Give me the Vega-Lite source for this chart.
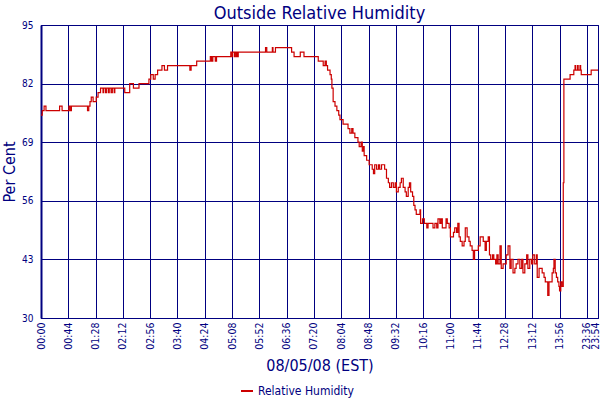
{
  "$schema": "https://vega.github.io/schema/vega-lite/v6.json",
  "width": 557,
  "height": 293,
  "autosize": "none",
  "padding": {"left": 41, "top": 25, "right": 2, "bottom": 82},
  "background": "white",
  "title": {
    "text": "Outside Relative Humidity",
    "fontSize": 18,
    "fontWeight": "normal",
    "color": "#000080",
    "anchor": "middle",
    "offset": -3
  },
  "data": {
    "values": [
      {"n": 0, "v": 75}, {"n": 2, "v": 76}, {"n": 5, "v": 77}, {"n": 8, "v": 76},
      {"n": 30, "v": 77}, {"n": 34, "v": 76}, {"n": 45, "v": 77}, {"n": 47, "v": 76},
      {"n": 49, "v": 77}, {"n": 75, "v": 76}, {"n": 77, "v": 77}, {"n": 79, "v": 78},
      {"n": 81, "v": 79}, {"n": 84, "v": 78}, {"n": 89, "v": 79}, {"n": 92, "v": 80},
      {"n": 96, "v": 81}, {"n": 100, "v": 80}, {"n": 101, "v": 81}, {"n": 104, "v": 80},
      {"n": 106, "v": 81}, {"n": 109, "v": 80}, {"n": 110, "v": 81}, {"n": 113, "v": 80},
      {"n": 115, "v": 81}, {"n": 118, "v": 80}, {"n": 119, "v": 81}, {"n": 135, "v": 80},
      {"n": 143, "v": 82}, {"n": 149, "v": 81}, {"n": 158, "v": 82}, {"n": 174, "v": 83},
      {"n": 177, "v": 84}, {"n": 181, "v": 83}, {"n": 184, "v": 84}, {"n": 188, "v": 85},
      {"n": 195, "v": 86}, {"n": 199, "v": 85}, {"n": 204, "v": 86}, {"n": 240, "v": 85},
      {"n": 242, "v": 86}, {"n": 251, "v": 87}, {"n": 273, "v": 88}, {"n": 275, "v": 87},
      {"n": 277, "v": 88}, {"n": 281, "v": 87}, {"n": 283, "v": 88}, {"n": 306, "v": 89},
      {"n": 308, "v": 88}, {"n": 309, "v": 89}, {"n": 312, "v": 88}, {"n": 313, "v": 89},
      {"n": 315, "v": 88}, {"n": 316, "v": 89}, {"n": 317, "v": 88}, {"n": 318, "v": 89},
      {"n": 362, "v": 90}, {"n": 364, "v": 89}, {"n": 373, "v": 90}, {"n": 374, "v": 89},
      {"n": 378, "v": 90}, {"n": 404, "v": 89}, {"n": 408, "v": 88}, {"n": 418, "v": 89},
      {"n": 424, "v": 88}, {"n": 447, "v": 87}, {"n": 455, "v": 86}, {"n": 458, "v": 87},
      {"n": 460, "v": 86}, {"n": 462, "v": 85}, {"n": 466, "v": 84}, {"n": 468, "v": 83},
      {"n": 469, "v": 81}, {"n": 471, "v": 78}, {"n": 474, "v": 77}, {"n": 477, "v": 76},
      {"n": 480, "v": 75}, {"n": 482, "v": 74}, {"n": 487, "v": 73}, {"n": 495, "v": 72},
      {"n": 498, "v": 71}, {"n": 501, "v": 72}, {"n": 503, "v": 71}, {"n": 506, "v": 70},
      {"n": 511, "v": 69}, {"n": 513, "v": 68}, {"n": 516, "v": 69}, {"n": 518, "v": 67},
      {"n": 520, "v": 68}, {"n": 521, "v": 66}, {"n": 525, "v": 65}, {"n": 529, "v": 64},
      {"n": 534, "v": 63}, {"n": 536, "v": 62}, {"n": 538, "v": 64}, {"n": 541, "v": 63},
      {"n": 544, "v": 64}, {"n": 546, "v": 63}, {"n": 549, "v": 64}, {"n": 554, "v": 63},
      {"n": 557, "v": 61}, {"n": 560, "v": 60}, {"n": 562, "v": 59}, {"n": 565, "v": 60},
      {"n": 568, "v": 59}, {"n": 571, "v": 60}, {"n": 573, "v": 58}, {"n": 576, "v": 59},
      {"n": 579, "v": 60}, {"n": 581, "v": 61}, {"n": 584, "v": 59}, {"n": 587, "v": 58},
      {"n": 589, "v": 57}, {"n": 592, "v": 59}, {"n": 594, "v": 60}, {"n": 596, "v": 58},
      {"n": 599, "v": 57}, {"n": 601, "v": 55}, {"n": 603, "v": 54}, {"n": 605, "v": 53},
      {"n": 611, "v": 54}, {"n": 612, "v": 51}, {"n": 615, "v": 52}, {"n": 618, "v": 51},
      {"n": 622, "v": 50}, {"n": 624, "v": 51}, {"n": 632, "v": 50}, {"n": 635, "v": 51},
      {"n": 638, "v": 50}, {"n": 640, "v": 52}, {"n": 643, "v": 51}, {"n": 645, "v": 52},
      {"n": 647, "v": 50}, {"n": 653, "v": 52}, {"n": 655, "v": 51}, {"n": 658, "v": 50},
      {"n": 660, "v": 48}, {"n": 665, "v": 49}, {"n": 667, "v": 50}, {"n": 670, "v": 49},
      {"n": 672, "v": 51}, {"n": 674, "v": 48}, {"n": 676, "v": 47}, {"n": 679, "v": 46},
      {"n": 682, "v": 47}, {"n": 684, "v": 50}, {"n": 687, "v": 48}, {"n": 690, "v": 47},
      {"n": 692, "v": 46}, {"n": 695, "v": 45}, {"n": 697, "v": 43}, {"n": 699, "v": 45},
      {"n": 705, "v": 46}, {"n": 708, "v": 48}, {"n": 713, "v": 47}, {"n": 716, "v": 45},
      {"n": 718, "v": 47}, {"n": 721, "v": 48}, {"n": 723, "v": 44}, {"n": 725, "v": 43},
      {"n": 728, "v": 44}, {"n": 730, "v": 43}, {"n": 733, "v": 42}, {"n": 735, "v": 44},
      {"n": 737, "v": 42}, {"n": 740, "v": 46}, {"n": 742, "v": 41}, {"n": 745, "v": 42},
      {"n": 750, "v": 44}, {"n": 753, "v": 46}, {"n": 756, "v": 41}, {"n": 758, "v": 43},
      {"n": 761, "v": 40}, {"n": 764, "v": 41}, {"n": 766, "v": 42}, {"n": 769, "v": 43},
      {"n": 772, "v": 41}, {"n": 775, "v": 43}, {"n": 777, "v": 40}, {"n": 780, "v": 42},
      {"n": 783, "v": 44}, {"n": 785, "v": 41}, {"n": 788, "v": 43}, {"n": 791, "v": 42},
      {"n": 793, "v": 44}, {"n": 796, "v": 42}, {"n": 799, "v": 44}, {"n": 800, "v": 39},
      {"n": 803, "v": 41}, {"n": 808, "v": 40}, {"n": 811, "v": 39}, {"n": 813, "v": 38},
      {"n": 817, "v": 35}, {"n": 819, "v": 38}, {"n": 824, "v": 40}, {"n": 826, "v": 41},
      {"n": 827, "v": 43}, {"n": 829, "v": 40}, {"n": 831, "v": 39}, {"n": 833, "v": 38},
      {"n": 835, "v": 37}, {"n": 836, "v": 36}, {"n": 838, "v": 38}, {"n": 840, "v": 37},
      {"n": 842, "v": 60}, {"n": 843, "v": 83}, {"n": 853, "v": 84}, {"n": 859, "v": 85},
      {"n": 861, "v": 86}, {"n": 862, "v": 85}, {"n": 865, "v": 86}, {"n": 866, "v": 85},
      {"n": 869, "v": 86}, {"n": 870, "v": 85}, {"n": 871, "v": 84}, {"n": 887, "v": 85},
      {"n": 898, "v": 85}
    ]
  },
  "mark": {"type": "line", "interpolate": "step-after", "strokeWidth": 1.2},
  "encoding": {
    "x": {
      "field": "n",
      "type": "quantitative",
      "scale": {"domain": [0, 898], "nice": false, "zero": false},
      "axis": {
        "title": "08/05/08 (EST)",
        "values": [0, 44, 88, 132, 176, 220, 264, 308, 352, 396, 440, 484, 528, 572, 616, 660, 704, 748, 792, 836, 880, 898],
        "labelExpr": "datum.value == 880 ? '23:36' : datum.value == 898 ? '23:54' : utcFormat(datum.value * 60000, '%H:%M')",
        "labelAngle": 270,
        "labelFontSize": 10.5,
        "labelFlush": false,
        "labelOverlap": false,
        "labelPadding": 4,
        "labelOffset": {"condition": {"test": "datum.value == 898", "value": -3}, "value": 0},
        "titlePadding": 8,
        "titleFontSize": 16
      }
    },
    "y": {
      "field": "v",
      "type": "quantitative",
      "scale": {"domain": [30, 95], "nice": false, "zero": false},
      "axis": {
        "title": "Per Cent",
        "values": [30, 43, 56, 69, 82, 95],
        "labelFontSize": 10,
        "labelPadding": 8,
        "titlePadding": 4,
        "titleFontSize": 16,
        "domainWidth": 2
      }
    },
    "color": {
      "datum": "Relative Humidity",
      "scale": {"range": ["#cc0000"]},
      "legend": {
        "title": null,
        "orient": "none",
        "legendX": 199,
        "legendY": 359,
        "symbolType": "stroke",
        "symbolSize": 144,
        "symbolStrokeWidth": 2,
        "labelFontSize": 12,
        "labelColor": "#000080"
      }
    }
  },
  "config": {
    "font": "DejaVu Sans Condensed",
    "view": {"stroke": "#000080", "strokeWidth": 1},
    "axis": {
      "grid": true,
      "gridColor": "#000080",
      "gridOpacity": 1,
      "gridWidth": 1,
      "domainColor": "#000080",
      "ticks": false,
      "labelColor": "#000080",
      "titleColor": "#000080",
      "titleFontWeight": "normal"
    }
  }
}
